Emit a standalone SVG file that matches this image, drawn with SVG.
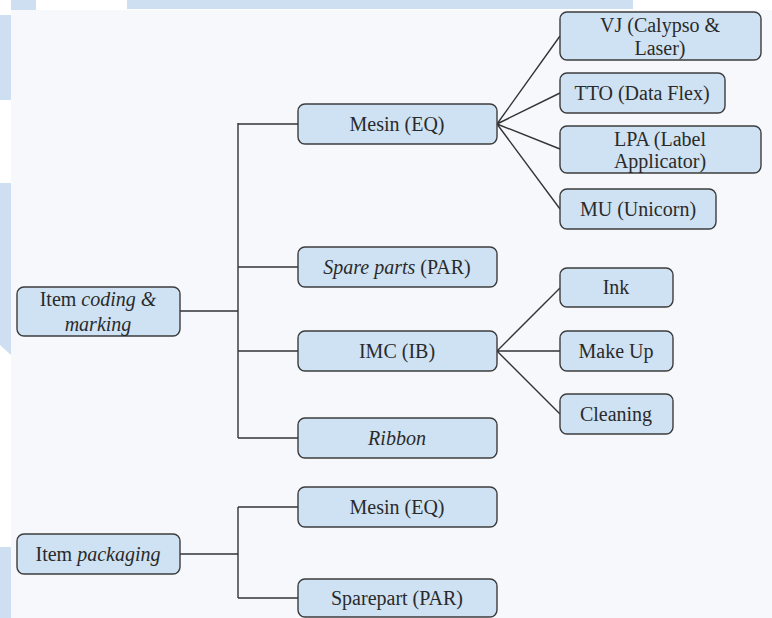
<svg xmlns="http://www.w3.org/2000/svg" width="772" height="618" viewBox="0 0 772 618">
<style>
.box{fill:#cfe2f3;stroke:#3c3c3c;stroke-width:1.4}
.t{font-family:'Liberation Serif','DejaVu Serif','Noto Serif',serif;font-size:20px;fill:#2a2a2a;text-anchor:middle}
.i{font-style:italic}
.c{fill:none;stroke:#333;stroke-width:1.4}
</style>
<rect x="0" y="0" width="772" height="618" fill="#ffffff"/>
<g id="background">
<rect x="11" y="0" width="25" height="10" fill="#cddff0"/>
<rect x="127" y="0" width="506" height="9" fill="#cddff0"/>
<rect x="0" y="15" width="11" height="85" fill="#cddff0"/>
<path d="M0 183 H11 V355 L0 345 Z" fill="#cddff0"/>
<rect x="0" y="547" width="11" height="71" fill="#cddff0"/>
<rect x="11" y="10" width="761" height="608" fill="#f6f8fc"/>
</g>
<g id="connectors">
<path class="c" d="M180 311 H238 M238 123 V438 M238 124 H298 M238 267 H298 M238 351 H298 M238 438 H298"/>
<path class="c" d="M180 554 H238 M238 507 V598 M238 507 H298 M238 598 H298"/>
<path class="c" d="M497 124 L560 36 M497 124 L560 93 M497 124 L560 149 M497 124 L560 209"/>
<path class="c" d="M497 351 L560 288 M497 351 L560 351 M497 351 L560 414"/>
</g>
<g id="item-coding">
<rect class="box" x="17" y="287" width="163" height="49" rx="7"/>
<text class="t" x="98" y="306">Item <tspan class="i">coding &amp;</tspan></text>
<text class="t i" x="98" y="331">marking</text>
</g>
<g id="mesin1">
<rect class="box" x="298" y="104" width="199" height="40" rx="7"/>
<text class="t" x="397" y="131">Mesin (EQ)</text>
</g>
<g id="spareparts">
<rect class="box" x="298" y="247" width="199" height="40" rx="7"/>
<text class="t" x="397" y="274"><tspan class="i">Spare parts</tspan> (PAR)</text>
</g>
<g id="imc">
<rect class="box" x="298" y="331" width="199" height="40" rx="7"/>
<text class="t" x="397" y="358">IMC (IB)</text>
</g>
<g id="ribbon">
<rect class="box" x="298" y="418" width="199" height="40" rx="7"/>
<text class="t i" x="397" y="445">Ribbon</text>
</g>
<g id="vj">
<rect class="box" x="560" y="12" width="201" height="48" rx="7"/>
<text class="t" x="660" y="32">VJ (Calypso &amp;</text>
<text class="t" x="660" y="55">Laser)</text>
</g>
<g id="tto">
<rect class="box" x="560" y="73" width="165" height="40" rx="7"/>
<text class="t" x="642" y="100">TTO (Data Flex)</text>
</g>
<g id="lpa">
<rect class="box" x="560" y="126" width="201" height="47" rx="7"/>
<text class="t" x="660" y="146">LPA (Label</text>
<text class="t" x="660" y="168">Applicator)</text>
</g>
<g id="mu">
<rect class="box" x="560" y="189" width="156" height="40" rx="7"/>
<text class="t" x="638" y="216">MU (Unicorn)</text>
</g>
<g id="ink">
<rect class="box" x="560" y="268" width="113" height="39" rx="7"/>
<text class="t" x="616" y="294">Ink</text>
</g>
<g id="makeup">
<rect class="box" x="560" y="331" width="113" height="40" rx="7"/>
<text class="t" x="616" y="358">Make Up</text>
</g>
<g id="cleaning">
<rect class="box" x="560" y="394" width="113" height="40" rx="7"/>
<text class="t" x="616" y="421">Cleaning</text>
</g>
<g id="item-packaging">
<rect class="box" x="17" y="534" width="163" height="40" rx="7"/>
<text class="t" x="98" y="561">Item <tspan class="i">packaging</tspan></text>
</g>
<g id="mesin2">
<rect class="box" x="298" y="487" width="199" height="40" rx="7"/>
<text class="t" x="397" y="514">Mesin (EQ)</text>
</g>
<g id="sparepart">
<rect class="box" x="298" y="579" width="199" height="38" rx="7"/>
<text class="t" x="397" y="605">Sparepart (PAR)</text>
</g>
</svg>
